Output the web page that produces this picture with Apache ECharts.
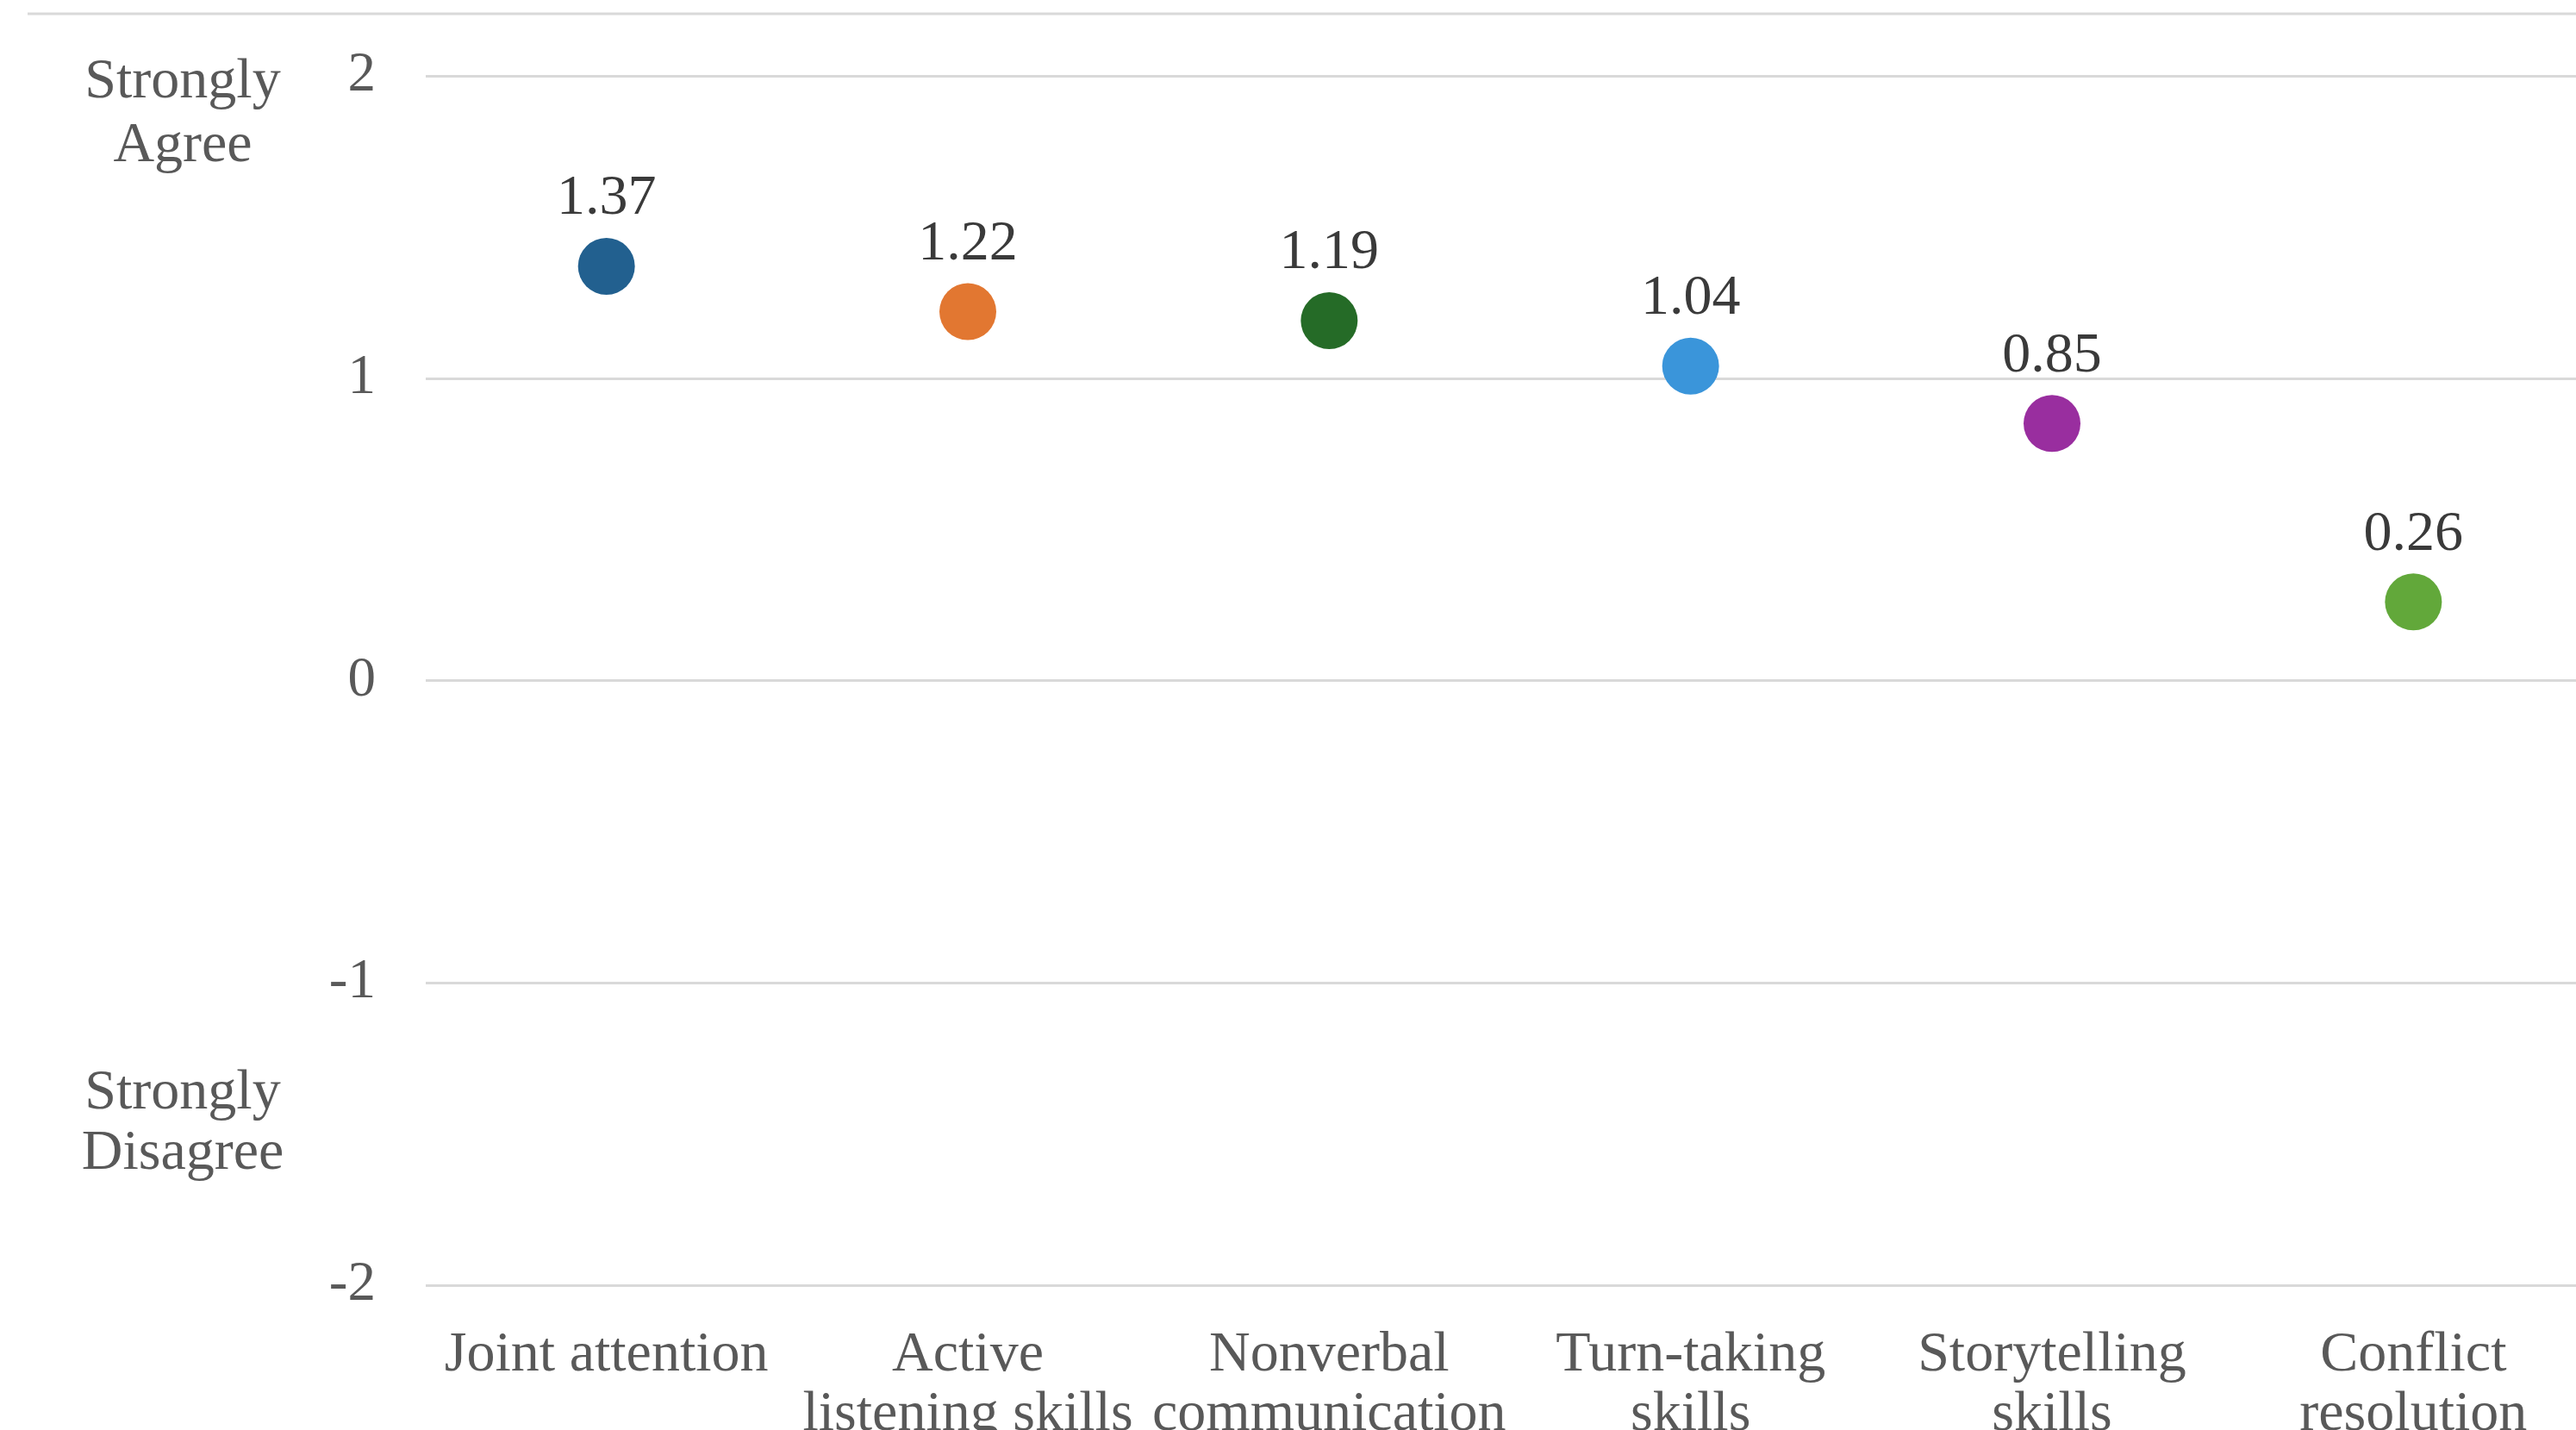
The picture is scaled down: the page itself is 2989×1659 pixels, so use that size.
<!DOCTYPE html>
<html>
<head>
<meta charset="utf-8">
<script src="https://cdn.jsdelivr.net/npm/echarts@6/dist/echarts.min.js"></script>
<style>
  html, body { margin: 0; padding: 0; background: #ffffff; }
  #chart { width: 2989px; height: 1659px; }
</style>
</head>
<body>
<div id="chart"></div>
<script>
// ---- data ----
const categories = [
  'Joint attention',
  'Active\nlistening skills',
  'Nonverbal\ncommunication',
  'Turn-taking\nskills',
  'Storytelling\nskills',
  'Conflict\nresolution'
];
const meanScores = [1.37, 1.22, 1.19, 1.04, 0.85, 0.26];
const pointColors = ['#22608f', '#e27731', '#256b27', '#3a95da', '#992e9f', '#62a83a'];
const yTicks = [-2, -1, 0, 1, 2];
const scaleEndLabels = { top: 'Strongly\nAgree', bottom: 'Strongly\nDisagree' };

// ---- chart ----
const FONT = '"Liberation Serif", "Times New Roman", serif';
const chart = echarts.init(document.getElementById('chart'), null, { renderer: 'canvas' });

const seriesData = meanScores.map((v, i) => ({
  value: v,
  itemStyle: { color: pointColors[i], opacity: 1 }
}));

chart.setOption({
  animation: false,
  backgroundColor: '#ffffff',
  grid: {
    left: 494, right: -21, top: 88, bottom: 168,
    containLabel: false,
    outerBoundsMode: 'none'
  },
  xAxis: {
    type: 'category',
    data: categories,
    boundaryGap: true,
    axisLine: { show: false },
    axisTick: { show: false },
    splitLine: { show: false },
    axisLabel: {
      interval: 0,
      margin: 47,
      fontFamily: FONT,
      fontSize: 66,
      lineHeight: 69,
      color: '#595959',
      align: 'center'
    }
  },
  yAxis: {
    type: 'value',
    min: yTicks[0],
    max: yTicks[yTicks.length - 1],
    interval: 1,
    axisLine: { show: false },
    axisTick: { show: false },
    splitLine: { show: true, lineStyle: { color: '#d9d9d9', width: 3 } },
    axisLabel: {
      margin: 58,
      fontFamily: FONT,
      fontSize: 65,
      color: '#595959'
    }
  },
  series: [{
    type: 'scatter',
    data: seriesData,
    symbol: 'circle',
    symbolSize: 66,
    itemStyle: { opacity: 1 },
    emphasis: { disabled: true },
    label: {
      show: true,
      position: 'top',
      distance: 12,
      fontFamily: FONT,
      fontSize: 66,
      lineHeight: 66,
      color: '#3a3a3a',
      formatter: p => p.value.toFixed(2)
    }
  }],
  graphic: [
    {
      type: 'line',
      shape: { x1: 32, y1: 16, x2: 2989, y2: 16 },
      style: { stroke: '#d9d9d9', lineWidth: 3 },
      silent: true
    },
    {
      type: 'text',
      x: 212, y: 133,
      style: {
        text: scaleEndLabels.top,
        fontFamily: FONT, fontSize: 66, lineHeight: 74,
        fill: '#595959', align: 'center', verticalAlign: 'middle'
      }
    },
    {
      type: 'text',
      x: 212, y: 1304,
      style: {
        text: scaleEndLabels.bottom,
        fontFamily: FONT, fontSize: 66, lineHeight: 70,
        fill: '#595959', align: 'center', verticalAlign: 'middle'
      }
    }
  ]
});
</script>
</body>
</html>
